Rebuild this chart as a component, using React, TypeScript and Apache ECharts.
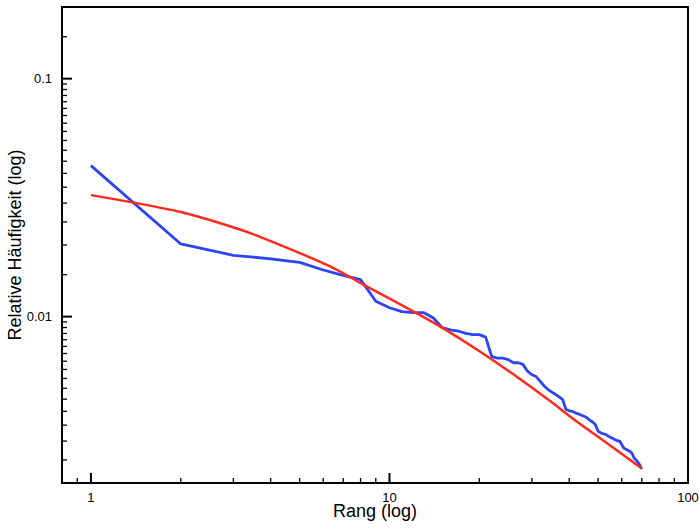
import React, { useEffect, useRef } from "react";
import * as echarts from "echarts";

// ---- data ----
const ranks = [
  1, 2, 3, 4, 5, 6, 7, 8, 9, 10,
  11, 12, 13, 14, 15, 16, 17, 18, 19, 20,
  21, 22, 23, 24, 25, 26, 27, 28, 29, 30,
  31, 32, 33, 34, 35, 36, 37, 38, 39, 40,
  41, 42, 43, 44, 45, 46, 47, 48, 49, 50,
  51, 52, 53, 54, 55, 56, 57, 58, 59, 60,
  61, 62, 63, 64, 65, 66, 67, 68, 69, 70,
];
const observedFreq = [
  0.0431, 0.0202, 0.0181, 0.0175, 0.0169, 0.0157, 0.0149, 0.0143, 0.0116, 0.0109,
  0.0105, 0.0104, 0.0104, 0.0099, 0.0090, 0.0088, 0.0087, 0.0085, 0.0084, 0.0084,
  0.0082, 0.0068, 0.0067, 0.0067, 0.0066, 0.0064, 0.0064, 0.0063, 0.0059, 0.0057,
  0.0056, 0.00535, 0.0051, 0.00494, 0.00482, 0.00471, 0.0046, 0.00449, 0.00408, 0.00402,
  0.0040, 0.00394, 0.0039, 0.00385, 0.00381, 0.00375, 0.00366, 0.0036, 0.00351, 0.0033,
  0.00325, 0.00322, 0.0032, 0.00315, 0.00311, 0.00308, 0.00304, 0.00301, 0.003, 0.0029,
  0.0028, 0.00277, 0.00274, 0.00271, 0.00266, 0.00254, 0.0025, 0.00244, 0.00238, 0.00229,
];
const fitRanks = [1, 1.4, 2, 2.85, 3.7, 6.3, 8.2, 12.4, 15.2, 20.2, 27.2, 34.7, 41.5, 55, 70];
const fitFreq = [
  0.0324, 0.0301, 0.0275, 0.0242, 0.0216, 0.0163, 0.0136, 0.0103, 0.0089, 0.0071,
  0.0055, 0.0044, 0.0037, 0.00287, 0.0023,
];

const xMajorTicks = [1, 10, 100];
const xTickLabels = ["1", "10", "100"];
const xMinorTicks = [0.9, 2, 3, 4, 5, 6, 7, 8, 9, 20, 30, 40, 50, 60, 70, 80, 90];
const yMajorTicks = [0.01, 0.1];
const yTickLabels = ["0.01", "0.1"];
const yMinorTicks = [
  0.0025, 0.003, 0.0035, 0.004, 0.0045, 0.005, 0.0055, 0.006, 0.0065, 0.007, 0.0075, 0.008, 0.0085, 0.009, 0.0095,
  0.015, 0.02, 0.025, 0.03, 0.035, 0.04, 0.045, 0.05, 0.055, 0.06, 0.065, 0.07, 0.075, 0.08, 0.085, 0.09, 0.095,
  0.15,
];

const X_MIN = 0.8;
const X_MAX = 100;
const Y_MIN = 0.002;
const Y_MAX = 0.2;

const CHART_W = 699;
const CHART_H = 532;
const GRID = { left: 62, right: 11, top: 7, bottom: 49 };

function labelFor(v: number, ticks: number[], labels: string[]) {
  for (let i = 0; i < ticks.length; i++) {
    if (Math.abs(v - ticks[i]) / ticks[i] < 1e-6) return labels[i];
  }
  return "";
}

export default function App() {
  const ref = useRef<HTMLDivElement>(null);
  useEffect(() => {
    if (!ref.current) return;
    const chart = echarts.init(ref.current, null, { renderer: "svg" });
    const font = "'Liberation Sans', Arial, Helvetica, sans-serif";

    // 1) grid and axes only
    try {
      chart.setOption({
        animation: false,
        grid: {
          left: GRID.left,
          right: GRID.right,
          top: GRID.top,
          bottom: GRID.bottom,
          outerBoundsMode: "none",
          show: true,
          borderColor: "#000",
          borderWidth: 2,
        },
        xAxis: {
          type: "log",
          min: X_MIN,
          max: X_MAX,
          name: "Rang (log)",
          nameLocation: "middle",
          nameGap: 19,
          nameMoveOverlap: false,
          nameTextStyle: { fontFamily: font, fontSize: 18, color: "#000" },
          axisLine: { show: false },
          axisTick: { show: false },
          splitLine: { show: false },
          axisLabel: {
            margin: 8,
            fontFamily: font,
            fontSize: 13,
            color: "#000",
            formatter: (v: number) => labelFor(v, xMajorTicks, xTickLabels),
          },
        },
        yAxis: {
          type: "log",
          min: Y_MIN,
          max: Y_MAX,
          name: "Relative Häufigkeit (log)",
          nameLocation: "middle",
          nameGap: 38,
          nameMoveOverlap: false,
          nameTextStyle: { fontFamily: font, fontSize: 18, color: "#000" },
          axisLine: { show: false },
          axisTick: { show: false },
          splitLine: { show: false },
          axisLabel: {
            margin: 10,
            fontFamily: font,
            fontSize: 13,
            color: "#000",
            formatter: (v: number) => labelFor(v, yMajorTicks, yTickLabels),
          },
        },
      });
    } catch (e) {
      /* keep going */
    }

    // 2) tick marks: along-axis positions from the axes' own scales, anchored on the grid edges
    try {
      const bottomY = CHART_H - GRID.bottom;
      const leftX = GRID.left;
      const els: any[] = [];
      const xTick = (v: number, len: number, lw: number) => {
        if (!(v > X_MIN && v < X_MAX)) return;
        const x = Number(chart.convertToPixel({ xAxisIndex: 0 }, v));
        if (!isFinite(x)) return;
        els.push({
          type: "line",
          shape: { x1: x, y1: bottomY, x2: x, y2: bottomY - len },
          style: { stroke: "#000", lineWidth: lw },
        });
      };
      const yTick = (v: number, len: number, lw: number) => {
        if (!(v > Y_MIN && v < Y_MAX)) return;
        const y = Number(chart.convertToPixel({ yAxisIndex: 0 }, v));
        if (!isFinite(y)) return;
        els.push({
          type: "line",
          shape: { x1: leftX, y1: y, x2: leftX + len, y2: y },
          style: { stroke: "#000", lineWidth: lw },
        });
      };
      xMinorTicks.forEach((v) => xTick(v, 5, 1.3));
      xMajorTicks.forEach((v) => xTick(v, 10, 2));
      yMinorTicks.forEach((v) => yTick(v, 5, 1.3));
      yMajorTicks.forEach((v) => yTick(v, 10, 2));
      chart.setOption({ graphic: els });
    } catch (e) {
      /* keep going */
    }

    // 3) the data lines
    try {
      chart.setOption({
        series: [
          {
            type: "line",
            data: ranks.map((r, i) => [r, observedFreq[i]]),
            showSymbol: false,
            lineStyle: { color: "#2d44f6", width: 2.8 },
            itemStyle: { color: "#2d44f6" },
          },
          {
            type: "line",
            data: fitRanks.map((r, i) => [r, fitFreq[i]]),
            showSymbol: false,
            smooth: 0.3,
            lineStyle: { color: "#ff2a1f", width: 2.5 },
            itemStyle: { color: "#ff2a1f" },
          },
        ],
      });
    } catch (e) {
      /* keep going */
    }

    return () => chart.dispose();
  }, []);
  return (
    <div
      ref={ref}
      style={{ position: "fixed", left: 0, top: 0, width: CHART_W, height: CHART_H, background: "#fff" }}
    />
  );
}
